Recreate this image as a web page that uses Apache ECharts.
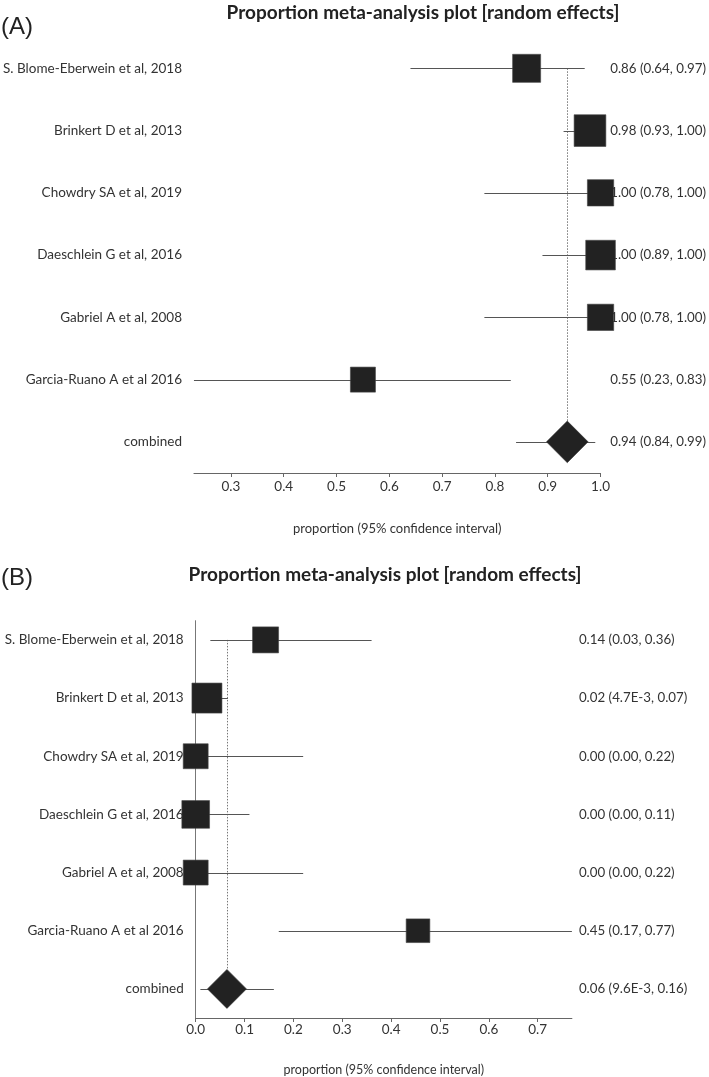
<!DOCTYPE html>
<html><head><meta charset="utf-8">
<script src="https://cdn.jsdelivr.net/npm/echarts@6/dist/echarts.min.js"></script>
<style>html,body{margin:0;padding:0;background:#fff}#c{width:709px;height:1077px}</style>
</head><body><div id="c"></div>
<script>
// ---------- data ----------
const studies = ["S. Blome-Eberwein et al, 2018", "Brinkert D et al, 2013", "Chowdry SA et al, 2019",
  "Daeschlein G et al, 2016", "Gabriel A et al, 2008", "Garcia-Ruano A et al 2016"];
const combinedLabel = "combined";
const titleText = "Proportion meta-analysis plot [random effects]";
const axisName = "proportion (95% confidence interval)";

// Panel A
const estA = [0.86, 0.98, 1.00, 1.00, 1.00, 0.55];
const lowA = [0.64, 0.93, 0.78, 0.89, 0.78, 0.23];
const highA = [0.97, 1.00, 1.00, 1.00, 1.00, 0.83];
const weightA = [16.8, 21.5, 14.8, 18.8, 14.8, 13.4];
const combinedA = [0.937, 0.84, 0.99];
const textA = ["0.86 (0.64, 0.97)", "0.98 (0.93, 1.00)", "1.00 (0.78, 1.00)", "1.00 (0.89, 1.00)",
  "1.00 (0.78, 1.00)", "0.55 (0.23, 0.83)", "0.94 (0.84, 0.99)"];
const ticksA = [0.3, 0.4, 0.5, 0.6, 0.7, 0.8, 0.9, 1.0];

// Panel B
const estB = [0.143, 0.023, 0.00, 0.00, 0.00, 0.455];
const lowB = [0.03, 0.0047, 0.00, 0.00, 0.00, 0.17];
const highB = [0.36, 0.066, 0.22, 0.11, 0.22, 0.77];
const weightB = [16.3, 21.7, 15.0, 18.5, 15.0, 13.5];
const combinedB = [0.064, 0.0096, 0.16];
const textB = ["0.14 (0.03, 0.36)", "0.02 (4.7E-3, 0.07)", "0.00 (0.00, 0.22)", "0.00 (0.00, 0.11)",
  "0.00 (0.00, 0.22)", "0.45 (0.17, 0.77)", "0.06 (9.6E-3, 0.16)"];
const ticksB = [0.0, 0.1, 0.2, 0.3, 0.4, 0.5, 0.6, 0.7];

// ---------- chart ----------
const rows = [0, 1, 2, 3, 4, 5, 6];
const leftLabels = studies.concat([combinedLabel]);
const FONT = 'Lato, "Open Sans", sans-serif';
const TXT = '#333';
const LINE = '#555';
const BOX = '#222';

function studySeries(gi, est, low, high, w, boxScale) {
  return {
    type: 'custom', xAxisIndex: gi, yAxisIndex: gi * 2, z: 5,
    data: est.map((e, i) => [e, i, low[i], high[i], w[i]]),
    encode: { x: [0, 2, 3], y: 1 },
    renderItem(params, api) {
      const r = api.value(1);
      const p = api.coord([api.value(0), r]);
      const pl = api.coord([api.value(2), r]);
      const ph = api.coord([api.value(3), r]);
      const y = Math.round(p[1]) + 0.5;
      const s = boxScale * Math.sqrt(api.value(4));
      return { type: 'group', children: [
        { type: 'line', shape: { x1: pl[0], y1: y, x2: ph[0], y2: y }, style: { stroke: LINE, lineWidth: 1 } },
        { type: 'rect', shape: { x: p[0] - s / 2, y: p[1] - s / 2, width: s, height: s },
          style: { fill: BOX, stroke: '#444', lineWidth: 0.6 } }
      ]};
    }
  };
}
function combinedSeries(gi, c, half) {
  return {
    type: 'custom', xAxisIndex: gi, yAxisIndex: gi * 2, z: 3,
    data: [[c[0], 6, c[1], c[2]]],
    encode: { x: [0, 2, 3], y: 1 },
    renderItem(params, api) {
      const r = api.value(1);
      const p = api.coord([api.value(0), r]);
      const p0 = api.coord([api.value(0), 0]);
      const pl = api.coord([api.value(2), r]);
      const ph = api.coord([api.value(3), r]);
      const x = Math.round(p[0]) + 0.5;
      const y = Math.round(p[1]) + 0.5;
      return { type: 'group', children: [
        { type: 'line', shape: { x1: x, y1: p0[1], x2: x, y2: p[1] - half },
          style: { stroke: '#777', lineWidth: 1, lineDash: [1.5, 1.5] } },
        { type: 'line', shape: { x1: pl[0], y1: y, x2: ph[0], y2: y }, style: { stroke: LINE, lineWidth: 1 } },
        { type: 'polygon', shape: { points: [[p[0], p[1] - half], [p[0] + half, p[1]], [p[0], p[1] + half], [p[0] - half, p[1]]] },
          style: { fill: BOX, stroke: '#333', lineWidth: 0.6 } }
      ]};
    }
  };
}
function xAxisCfg(gi, min, max, ticks, margin, nameGap, nameSize) {
  return {
    type: 'value', gridIndex: gi, min: min, max: max,
    axisLine: { show: true, onZero: false, lineStyle: { color: '#666', width: 1 } },
    axisTick: { show: true, length: 4, customValues: ticks, lineStyle: { color: '#666' } },
    axisLabel: { customValues: ticks, formatter: v => v.toFixed(1), fontFamily: FONT, fontSize: 13.5, color: TXT, margin: margin },
    splitLine: { show: false },
    name: axisName, nameLocation: 'middle', nameGap: nameGap,
    nameTextStyle: { fontFamily: FONT, fontSize: nameSize, color: TXT }
  };
}
function yAxesCfg(gi, min, showLine, rightText, rightMargin) {
  return [{
    type: 'value', gridIndex: gi, inverse: true, min: min, max: 6.5, position: 'left',
    axisLine: { show: showLine, onZero: false, lineStyle: { color: '#777', width: 1 } },
    axisTick: { show: false }, splitLine: { show: false },
    axisLabel: { customValues: rows, formatter: v => leftLabels[Math.round(v)], fontFamily: FONT, fontSize: 13.5, color: TXT, margin: 12 }
  }, {
    type: 'value', gridIndex: gi, inverse: true, min: min, max: 6.5, position: 'right',
    axisLine: { show: false, onZero: false }, axisTick: { show: false }, splitLine: { show: false },
    axisLabel: { customValues: rows, formatter: v => rightText[Math.round(v)], fontFamily: FONT, fontSize: 13.3, color: TXT, margin: rightMargin, align: 'left' }
  }];
}

const chart = echarts.init(document.getElementById('c'), null, { renderer: 'canvas' });
chart.setOption({
  animation: false,
  backgroundColor: '#fff',
  grid: [
    { left: 190.3, right: 107, top: 37.2, height: 435.8 },
    { left: 195.7, right: 137.1, top: 620.7, height: 398.3 }
  ],
  xAxis: [
    xAxisCfg(0, 0.23, 1.0, ticksA, 7, 49, 13),
    xAxisCfg(1, 0, 0.77, ticksB, 5, 45, 12.5)
  ],
  yAxis: yAxesCfg(0, -0.5, false, textA, 9.7).concat(yAxesCfg(1, -0.33, true, textB, 7)),
  graphic: [
    { type: 'text', x: 423, y: 13, style: { text: titleText, font: 'bold 19px ' + FONT, fill: '#222', align: 'center', verticalAlign: 'middle' } },
    { type: 'text', x: 385, y: 575, style: { text: titleText, font: 'bold 19px ' + FONT, fill: '#222', align: 'center', verticalAlign: 'middle' } },
    { type: 'text', x: 1, y: 27, style: { text: '(A)', font: '24px "Liberation Sans", Arial, sans-serif', fill: '#222', align: 'left', verticalAlign: 'middle' } },
    { type: 'text', x: 1, y: 578, style: { text: '(B)', font: '24px "Liberation Sans", Arial, sans-serif', fill: '#222', align: 'left', verticalAlign: 'middle' } }
  ],
  series: [
    combinedSeries(0, combinedA, 20.8),
    studySeries(0, estA, lowA, highA, weightA, 6.84),
    combinedSeries(1, combinedB, 19.5),
    studySeries(1, estB, lowB, highB, weightB, 6.44)
  ]
});
</script></body></html>
